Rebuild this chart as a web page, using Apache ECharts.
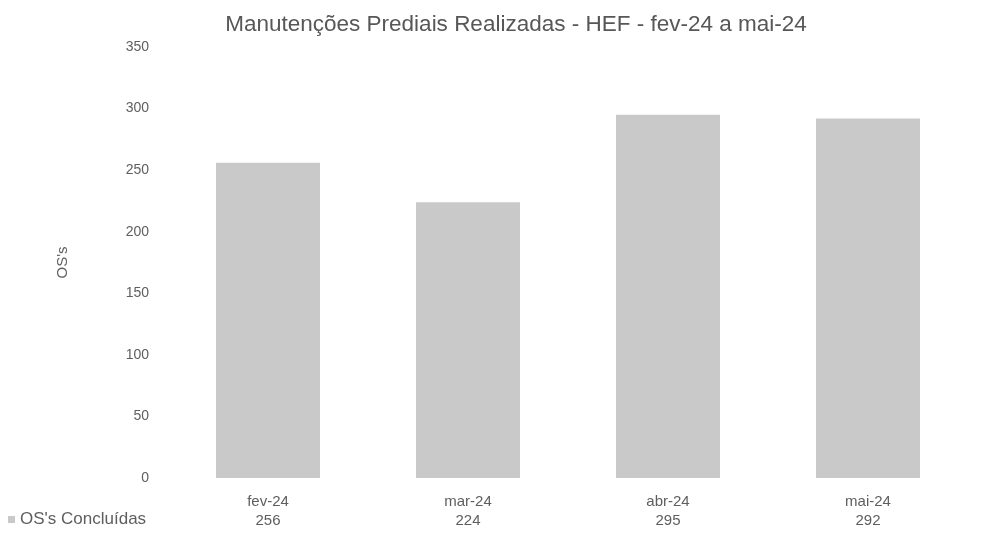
<!DOCTYPE html>
<html>
<head>
<meta charset="utf-8">
<script src="https://cdn.jsdelivr.net/npm/echarts@6/dist/echarts.min.js"></script>
<style>html,body{margin:0;padding:0;background:#fff}#c{width:987px;height:534px}</style>
</head>
<body>
<div id="c"></div>
<script>
const categories = ["fev-24", "mar-24", "abr-24", "mai-24"];
const concluidas = [256, 224, 295, 292];
const seriesName = "OS's Concluídas";
const titleText = "Manutenções Prediais Realizadas - HEF - fev-24 a mai-24";

const FONT = 'Liberation Sans, Arial, sans-serif';
const chart = echarts.init(document.getElementById('c'));
chart.setOption({
  backgroundColor: '#ffffff',
  animation: false,
  textStyle: { fontFamily: FONT },
  title: {
    text: titleText,
    left: 511, textAlign: 'center', top: 8,
    textStyle: { fontSize: 22.5, fontWeight: 'normal', color: '#575757', fontFamily: FONT }
  },
  legend: {
    data: [seriesName],
    left: 3, top: 506,
    icon: 'rect', itemWidth: 7, itemHeight: 7, itemGap: 4,
    textStyle: { fontSize: 17, color: '#5e5e5e', fontFamily: FONT }
  },
  grid: { left: 168, right: 19, top: 47, bottom: 56, outerBoundsMode: 'none', containLabel: false },
  xAxis: {
    type: 'category',
    data: categories,
    axisLine: { show: false },
    axisTick: { show: false },
    axisLabel: {
      margin: 14,
      fontSize: 15, color: '#5e5e5e', lineHeight: 19,
      formatter: function (v, i) { return v + '\n' + concluidas[i]; }
    }
  },
  yAxis: {
    type: 'value',
    min: 0, max: 350, interval: 50,
    name: "OS's",
    nameLocation: 'middle',
    nameRotate: 90,
    nameGap: 98,
    nameTextStyle: { fontSize: 15, color: '#5e5e5e' },
    axisLine: { show: false },
    axisTick: { show: false },
    splitLine: { show: false },
    axisLabel: { fontSize: 14, color: '#5e5e5e', margin: 19 }
  },
  series: [{
    name: seriesName,
    type: 'bar',
    data: concluidas,
    barWidth: 104,
    itemStyle: { color: '#c9c9c9' }
  }]
});
</script>
</body>
</html>
